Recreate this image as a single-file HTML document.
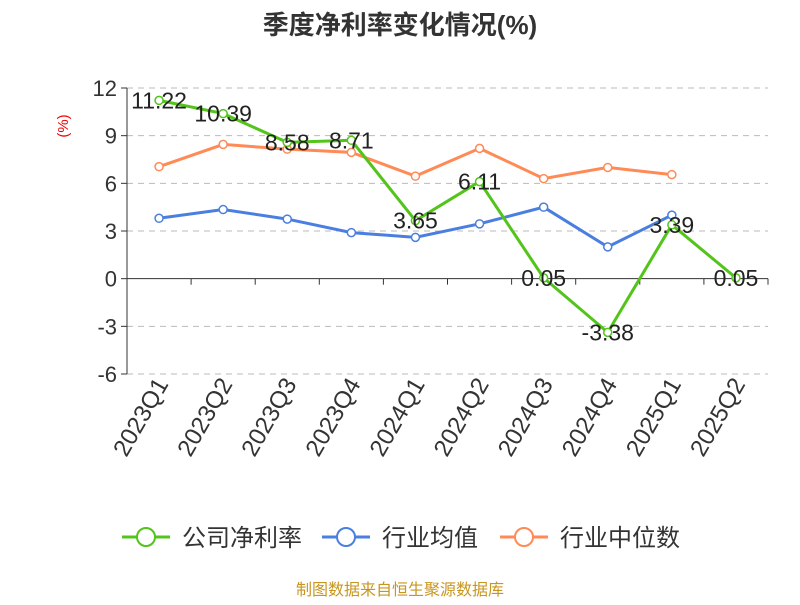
<!DOCTYPE html>
<html><head><meta charset="utf-8"><style>
body{margin:0;background:#fff;font-family:"Liberation Sans","Noto Sans CJK SC",sans-serif}
</style></head><body>
<svg id="c" width="800" height="600" xmlns="http://www.w3.org/2000/svg" font-family="Liberation Sans, Noto Sans CJK SC, sans-serif">
<text x="400" y="34" text-anchor="middle" font-size="26" font-weight="bold" fill="#333">季度净利率变化情况(%)</text>
<text transform="translate(68,126) rotate(-90)" text-anchor="middle" font-size="15" fill="#e00">(%)</text>
<g id="grid"></g><g id="axes"></g><g id="series"></g>
<g>
<g><line x1="122" y1="537" x2="170" y2="537" stroke="#52c41a" stroke-width="3"/><circle cx="146" cy="537" r="9" fill="#fff" stroke="#52c41a" stroke-width="2"/><text x="182" y="546" font-size="24" fill="#333">公司净利率</text></g>
<g><line x1="322" y1="537" x2="370" y2="537" stroke="#4a7fe0" stroke-width="3"/><circle cx="346" cy="537" r="9" fill="#fff" stroke="#4a7fe0" stroke-width="2"/><text x="382" y="546" font-size="24" fill="#333">行业均值</text></g>
<g><line x1="500" y1="537" x2="548" y2="537" stroke="#ff8a55" stroke-width="3"/><circle cx="524" cy="537" r="9" fill="#fff" stroke="#ff8a55" stroke-width="2"/><text x="560" y="546" font-size="24" fill="#333">行业中位数</text></g>
</g>
<text x="400" y="595" text-anchor="middle" font-size="16" fill="#c8961e">制图数据来自恒生聚源数据库</text>
</svg>
<script>
const categories=["2023Q1","2023Q2","2023Q3","2023Q4","2024Q1","2024Q2","2024Q3","2024Q4","2025Q1","2025Q2"];
const companyValues=[11.22,10.39,8.58,8.71,3.65,6.11,0.05,-3.38,3.39,0.05];
const industryMean=[3.8,4.35,3.75,2.9,2.6,3.45,4.5,2.0,4.0];
const industryMedian=[7.05,8.45,8.15,7.95,6.45,8.2,6.3,7.0,6.55];
const yTicks=[12,9,6,3,0,-3,-6];
const NS="http://www.w3.org/2000/svg";
const L=127,R=768,T=88,B=374,ymax=12,ymin=-6;
const bw=(R-L)/categories.length;
const x=i=>L+bw*(i+0.5);
const y=v=>T+(ymax-v)*(B-T)/(ymax-ymin);
function mk(tag,attrs,parent,txt){const e=document.createElementNS(NS,tag);for(const k in attrs)e.setAttribute(k,attrs[k]);if(txt!==undefined)e.textContent=txt;parent.appendChild(e);return e;}
const grid=document.getElementById('grid'),axes=document.getElementById('axes'),ser=document.getElementById('series');
yTicks.forEach(t=>{
 if(t!==0){const g=mk('line',{x1:L,x2:R,y1:y(t),y2:y(t),stroke:'#bbb','stroke-dasharray':'6,5'},grid);
 
 }
 mk('line',{x1:L-6,x2:L,y1:y(t),y2:y(t),stroke:'#333'},axes);
 const lb=mk('text',{x:L-10,y:y(t)+8,'text-anchor':'end','font-size':22,fill:'#333'},axes,String(t));
 
 
});
mk('line',{x1:L,x2:L,y1:T,y2:B,stroke:'#333'},axes);
mk('line',{x1:L,x2:R,y1:y(0),y2:y(0),stroke:'#333'},axes);
for(let i=0;i<=categories.length;i++)mk('line',{x1:L+bw*i,x2:L+bw*i,y1:y(0),y2:y(0)+6,stroke:'#333'},axes);
categories.forEach((c,i)=>{
 const t=mk('text',{transform:`translate(${x(i)+10},${B+10}) rotate(-60)`,'text-anchor':'end','font-size':24,fill:'#333'},axes,c);
 
 
});
function series(vals,color,name,labels){
 const g=mk('g',{},ser);
 
 
 mk('polyline',{points:vals.map((v,i)=>x(i)+','+y(v)).join(' '),fill:'none',stroke:color,'stroke-width':3},g);
 vals.forEach((v,i)=>{
  const p=mk('circle',{cx:x(i),cy:y(v),r:4,fill:'#fff',stroke:color,'stroke-width':1.5},g);
  
  
  if(labels){const t=mk('text',{x:x(i),y:y(v)+8,'text-anchor':'middle','font-size':23,fill:'#222'},g,v.toFixed(2));
   
   }
 });
}
series(industryMedian,'#ff8a55','industry-median-line',false);
series(industryMean,'#4a7fe0','industry-mean-line',false);
series(companyValues,'#52c41a','company-net-margin-line',true);
</script>
</body></html>
